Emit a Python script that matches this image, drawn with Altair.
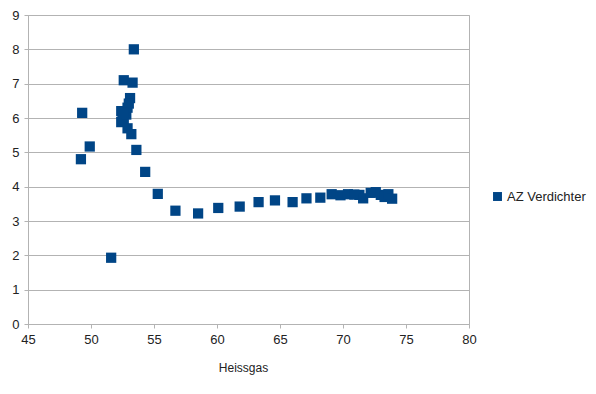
import altair as alt
import pandas as pd

heissgas = [53.4, 52.6, 53.3, 49.3, 53.1, 52.4, 52.5, 52.4, 52.6, 52.8, 52.9, 53.0, 52.9, 52.6,
            49.2, 49.9, 53.2, 53.6, 54.3, 55.3, 51.6, 56.7, 58.5, 60.1, 61.8, 63.3, 64.6, 66.0,
            67.1, 68.2, 69.1, 69.8, 70.4, 70.9, 71.3, 71.6, 72.2, 72.6, 73.0, 73.3, 73.6, 73.9]
verdichter = [8.0, 7.1, 7.03, 6.15, 6.58, 6.2, 6.0, 5.88, 5.95, 6.1, 6.3, 6.42, 5.7, 6.15,
              4.8, 5.17, 5.53, 5.07, 4.43, 3.79, 1.93, 3.3, 3.22, 3.38, 3.42, 3.55, 3.6, 3.55,
              3.66, 3.68, 3.78, 3.75, 3.78, 3.77, 3.76, 3.66, 3.82, 3.84, 3.76, 3.7, 3.78, 3.65]
series = ["AZ Verdichter"] * len(heissgas)

df = pd.DataFrame({"Heissgas": heissgas, "Verdichter": verdichter, "Serie": series})

chart = alt.Chart(df).mark_square(size=105, opacity=1).encode(
    x=alt.X("Heissgas:Q", scale=alt.Scale(domain=[45, 80], nice=False, zero=False),
            axis=alt.Axis(values=[45, 50, 55, 60, 65, 70, 75, 80], grid=False, title="Heissgas",
                          titlePadding=16, titleFontWeight="normal", titleFontSize=12,
                          titleX=215, titleAlign="center", labelFlush=False, labelPadding=5)),
    y=alt.Y("Verdichter:Q", scale=alt.Scale(domain=[0, 9], nice=False),
            axis=alt.Axis(values=list(range(10)), grid=True, title=None, labelPadding=5)),
    color=alt.Color("Serie:N", scale=alt.Scale(range=["#004586"]),
                    legend=alt.Legend(title=None, orient="none", legendX=463, legendY=175,
                                      symbolType="square", symbolSize=80, labelFontSize=13,
                                      labelOffset=3, labelColor="#222222", symbolOpacity=1)),
).properties(
    width=441, height=309,
    autosize=alt.AutoSizeParams(type="none"),
    padding={"left": 20, "top": 7, "right": 118, "bottom": 55},
).configure_view(
    stroke="#b3b3b3"
).configure_axis(
    domainColor="#b3b3b3", tickColor="#b3b3b3", gridColor="#b3b3b3",
    labelFont="Liberation Sans", titleFont="Liberation Sans",
    labelFontSize=13, labelColor="#222222", titleColor="#222222",
    tickSize=4
).configure_legend(
    labelFont="Liberation Sans"
)

chart.save("out.html", embed_options={"renderer": "svg", "actions": False})
